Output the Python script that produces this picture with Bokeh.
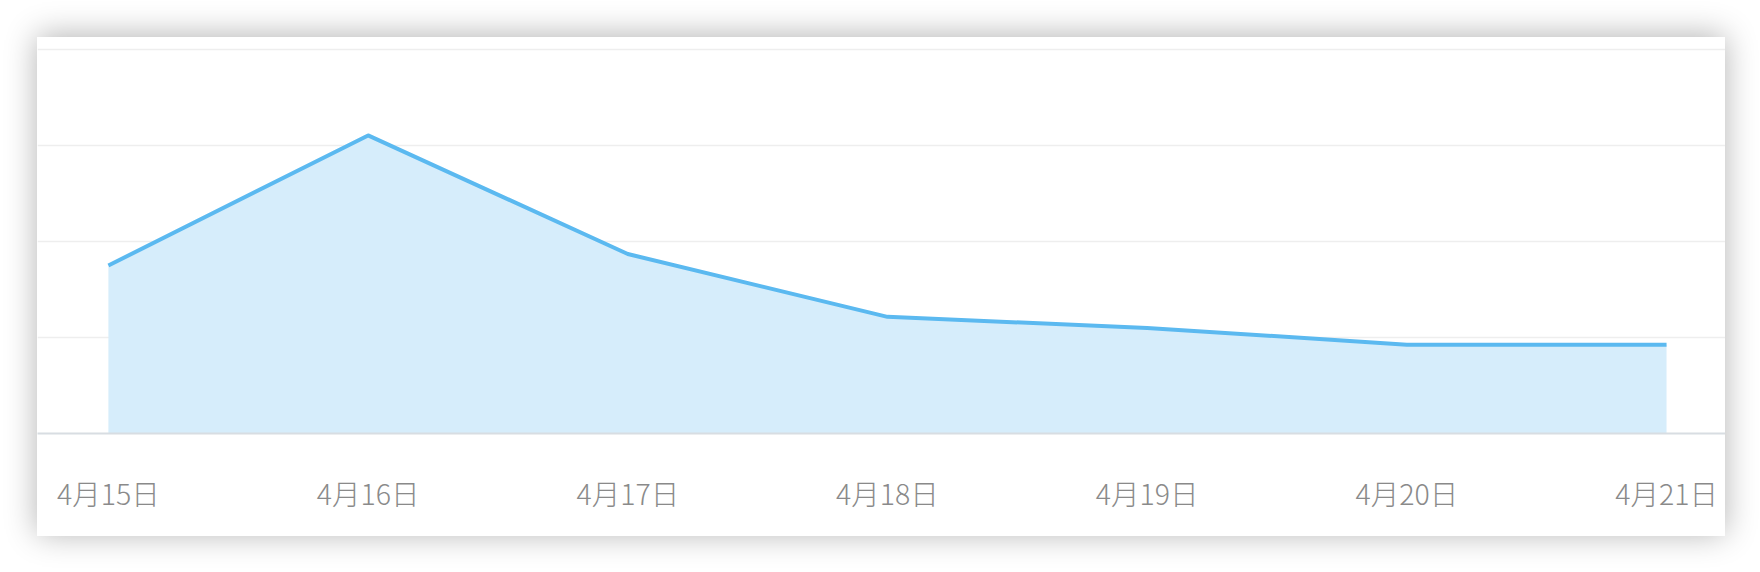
from bokeh.plotting import figure
from bokeh.models import FixedTicker, Range1d
from bokeh.embed import file_html
from bokeh.resources import INLINE

# days along the x axis and the daily values
days = ["4月15日", "4月16日", "4月17日", "4月18日", "4月19日", "4月20日", "4月21日"]
values = [17.5, 31.05, 18.7, 12.15, 11.0, 9.25, 9.25]
y_ticks = [0, 10, 20, 30, 40]

xs = list(range(len(days)))

p = figure(width=1688, height=499, output_backend="svg", toolbar_location=None,
           x_range=Range1d(-0.273, 6.227), y_range=Range1d(0, 41.25),
           min_border_left=0, min_border_right=0, min_border_top=0, min_border_bottom=103)
p.margin = (37, 0, 0, 37)
p.styles = {"box-shadow": "0 -2px 30px rgba(0,0,0,0.3)"}
p.background_fill_color = "white"
p.border_fill_color = "white"
p.outline_line_color = None

# filled area under the line
p.varea(x=xs, y1=[0] * len(xs), y2=values, fill_color="#d6edfb", fill_alpha=1)
p.line(x=xs, y=values, line_color="#5bb9f0", line_width=4, line_join="round")

p.yaxis.visible = False
p.ygrid.ticker = FixedTicker(ticks=y_ticks)
p.ygrid.grid_line_color = "#eeeeee"
p.ygrid.grid_line_width = 1.5
p.xgrid.grid_line_color = None

p.xaxis.ticker = FixedTicker(ticks=xs)
p.xaxis.major_label_overrides = {i: d for i, d in enumerate(days)}
p.xaxis.axis_line_color = "#d8dde2"
p.xaxis.axis_line_width = 2
p.xaxis.major_tick_line_color = None
p.xaxis.minor_tick_line_color = None
p.xaxis.major_tick_out = 0
p.xaxis.major_label_standoff = 38
p.xaxis.major_label_text_font = "'Noto Sans CJK SC Light', 'Noto Sans CJK SC DemiLight', 'Noto Sans CJK SC'"
p.xaxis.major_label_text_font_size = "28.5px"
p.xaxis.major_label_text_color = "#8a8a8a"

open("out.html", "w").write(file_html(p, INLINE))
